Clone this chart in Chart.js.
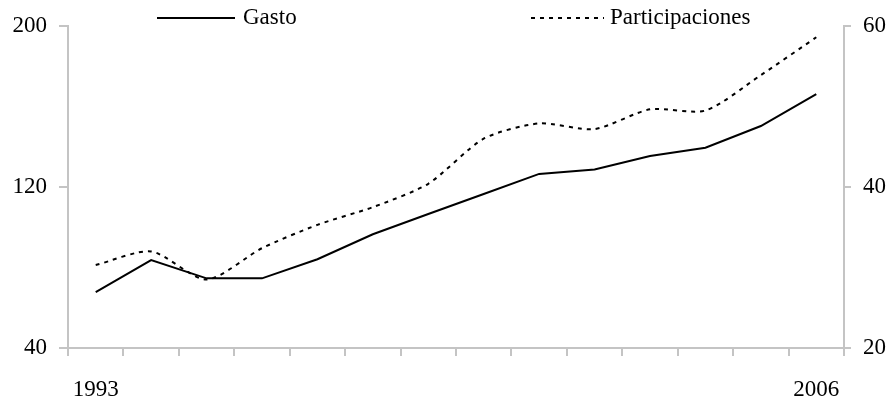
<!DOCTYPE html>
<html>
<head>
<meta charset="utf-8">
<script src="https://cdn.jsdelivr.net/npm/chart.js@4"></script>
<style>
    body { margin: 0; background: #fff; }
</style>
</head>
<body>
<canvas id="myChart" width="889" height="402"></canvas>
<script>
const years = ['1993', '1994', '1995', '1996', '1997', '1998', '1999', '2000', '2001', '2002', '2003', '2004', '2005', '2006']
const gasto = [67.8, 83.7, 74.6, 74.6, 84.1, 96.5, 106.6, 116.5, 126.5, 128.7, 135.4, 139.5, 150.3, 166.2]
const participaciones = [30.3, 32.0, 28.5, 32.4, 35.3, 37.5, 40.4, 46.0, 47.9, 47.2, 49.65, 49.5, 53.9, 58.6]
const shownYears = ['1993', '2006']

const axisGrey = "#c4c4c4"
const font = { family: "'Liberation Serif', 'Times New Roman', serif", size: 23 }

// legend drawn above the plot, spread out like the original
const topLegend = {
    id: 'topLegend',
    afterDraw(chart) {
        let ctx = chart.ctx
        let items = [
            { ds: chart.data.datasets[0], x: 157, len: 78, textX: 243 },
            { ds: chart.data.datasets[1], x: 531, len: 73, textX: 610 }
        ]
        ctx.save()
        ctx.font = `${font.size}px ${font.family}`
        ctx.textBaseline = "middle"
        ctx.fillStyle = "#000"
        items.forEach(item => {
            ctx.beginPath()
            ctx.setLineDash(item.ds.borderDash || [])
            ctx.lineWidth = 2
            ctx.strokeStyle = item.ds.borderColor
            ctx.moveTo(item.x, 18)
            ctx.lineTo(item.x + item.len, 18)
            ctx.stroke()
            ctx.setLineDash([])
            ctx.fillText(item.ds.label, item.textX, 18)
        })
        ctx.restore()
    }
}

const data = {
    labels: years,
    datasets: [{
        label: 'Gasto',
        data: gasto,
        yAxisID: 'y',
        borderColor: "#000",
        backgroundColor: "#000",
        borderWidth: 2,
        pointRadius: 0,
        tension: 0
    }, {
        label: 'Participaciones',
        data: participaciones,
        yAxisID: 'y1',
        borderColor: "#000",
        backgroundColor: "#000",
        borderWidth: 2,
        borderDash: [4, 5],
        pointRadius: 0,
        tension: 0.25
    }]
}

const config = {
    type: 'line',
    data: data,
    plugins: [topLegend],
    options: {
        responsive: false,
        animation: false,
        layout: {
            padding: { top: 26, left: 0, right: 0, bottom: 0 }
        },
        plugins: {
            legend: { display: false },
            tooltip: { enabled: false }
        },
        scales: {
            x: {
                offset: true,
                grid: {
                    offset: true,
                    drawOnChartArea: false,
                    tickLength: 8,
                    color: axisGrey,
                    lineWidth: 2
                },
                border: { color: axisGrey, width: 2 },
                ticks: {
                    autoSkip: false,
                    maxRotation: 0,
                    padding: 20,
                    color: "#000",
                    font: font,
                    callback: function(value, index) {
                        let label = this.getLabelForValue(value)
                        return shownYears.includes(label) ? label : ''
                    }
                },
                afterFit: scale => { scale.height = 54 }
            },
            y: {
                position: 'left',
                min: 40,
                max: 200,
                grid: {
                    drawOnChartArea: false,
                    tickLength: 9,
                    color: axisGrey,
                    lineWidth: 2
                },
                border: { color: axisGrey, width: 2 },
                ticks: {
                    stepSize: 80,
                    padding: 12,
                    color: "#000",
                    font: font
                },
                afterFit: scale => { scale.width = 68 }
            },
            y1: {
                position: 'right',
                min: 20,
                max: 60,
                grid: {
                    drawOnChartArea: false,
                    tickLength: 7,
                    color: axisGrey,
                    lineWidth: 2
                },
                border: { color: axisGrey, width: 2 },
                ticks: {
                    stepSize: 20,
                    padding: 12,
                    color: "#000",
                    font: font
                },
                afterFit: scale => { scale.width = 45 }
            }
        }
    }
}

const myChart = new Chart(document.getElementById('myChart').getContext("2d"), config)
</script>
</body>
</html>
